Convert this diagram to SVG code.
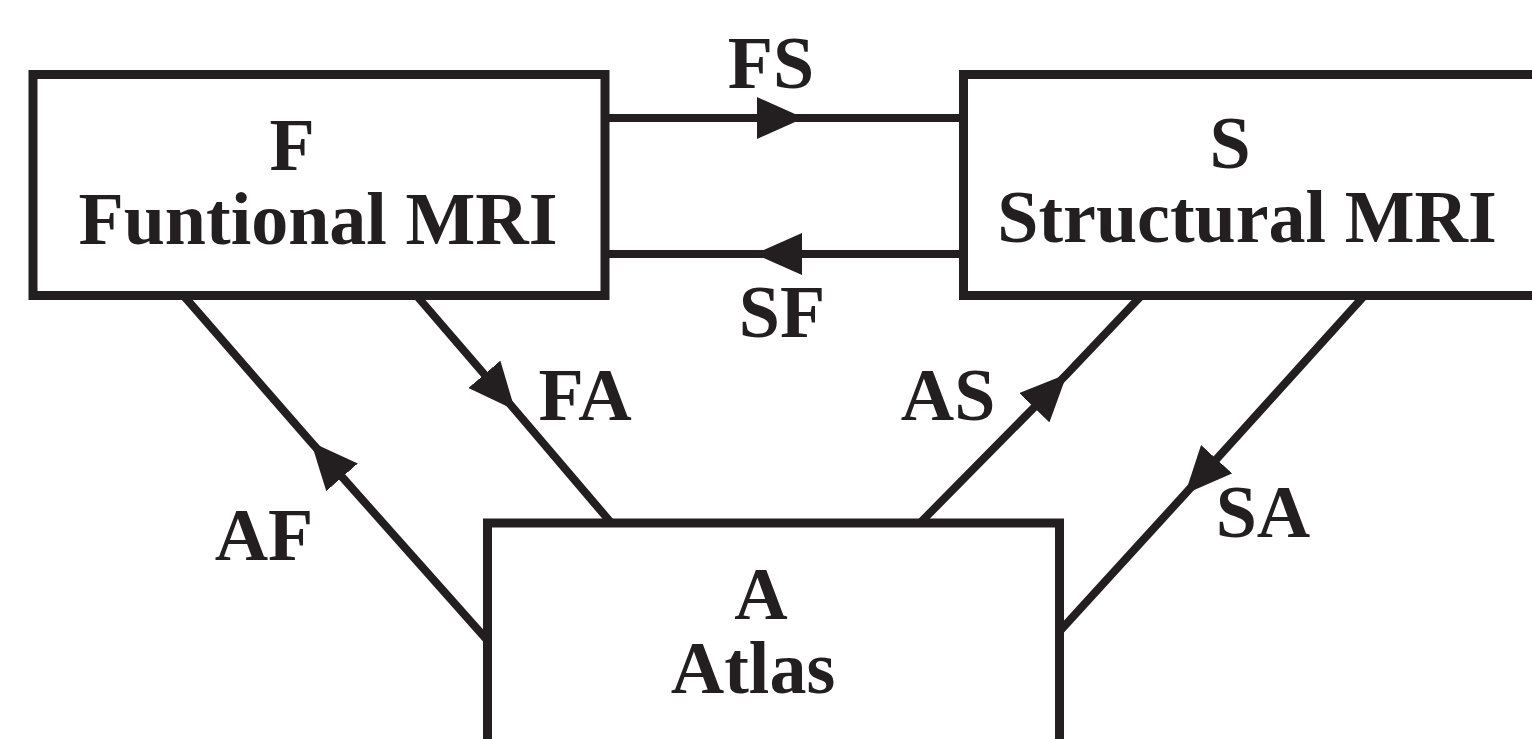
<svg xmlns="http://www.w3.org/2000/svg" width="1532" height="739" viewBox="0 0 1532 739">
<style>
.box{fill:#fff;stroke:#231f20;stroke-width:9}
.t{font-family:"Liberation Serif","Times New Roman",serif;font-weight:bold;font-size:74px;fill:#231f20;text-anchor:middle}
.c{fill:none;stroke:#231f20;stroke-width:8;marker-mid:url(#ah)}
</style>
<defs>
<marker id="ah" markerUnits="userSpaceOnUse" markerWidth="48" markerHeight="42" viewBox="0 0 48 42" refX="47" refY="21" orient="auto">
<path d="M0,0 L47,21 L0,42 Z" fill="#231f20"/>
</marker>
</defs>
<rect width="1532" height="739" fill="#fff"/>
<g id="connectors">
<path class="c" d="M606,118 L804,118 L964,118"/>
<path class="c" d="M964,254 L755,254 L606,254"/>
<path class="c" d="M416,295 L515,410 L613,525"/>
<path class="c" d="M488,641 L311,442 L183,295"/>
<path class="c" d="M920,523 L1067,374 L1141,296"/>
<path class="c" d="M1364,296 L1185,494 L1059,632"/>
<text class="t" x="771" y="88">FS</text>
<text class="t" x="782" y="337">SF</text>
<text class="t" x="585" y="420">FA</text>
<text class="t" x="264" y="560">AF</text>
<text class="t" x="948" y="420">AS</text>
<text class="t" x="1263" y="537">SA</text>
</g>
<g id="node-F">
<rect class="box" x="33" y="74.5" width="572" height="221"/>
<text class="t" x="292" y="170">F</text>
<text class="t" x="318" y="244">Funtional MRI</text>
</g>
<g id="node-S">
<rect class="box" x="963.5" y="74.5" width="600" height="221"/>
<text class="t" x="1230" y="168">S</text>
<text class="t" x="1247" y="242">Structural MRI</text>
</g>
<g id="node-A">
<rect class="box" x="487.5" y="523" width="572" height="260"/>
<text class="t" x="761" y="619">A</text>
<text class="t" x="753" y="693">Atlas</text>
</g>
</svg>
